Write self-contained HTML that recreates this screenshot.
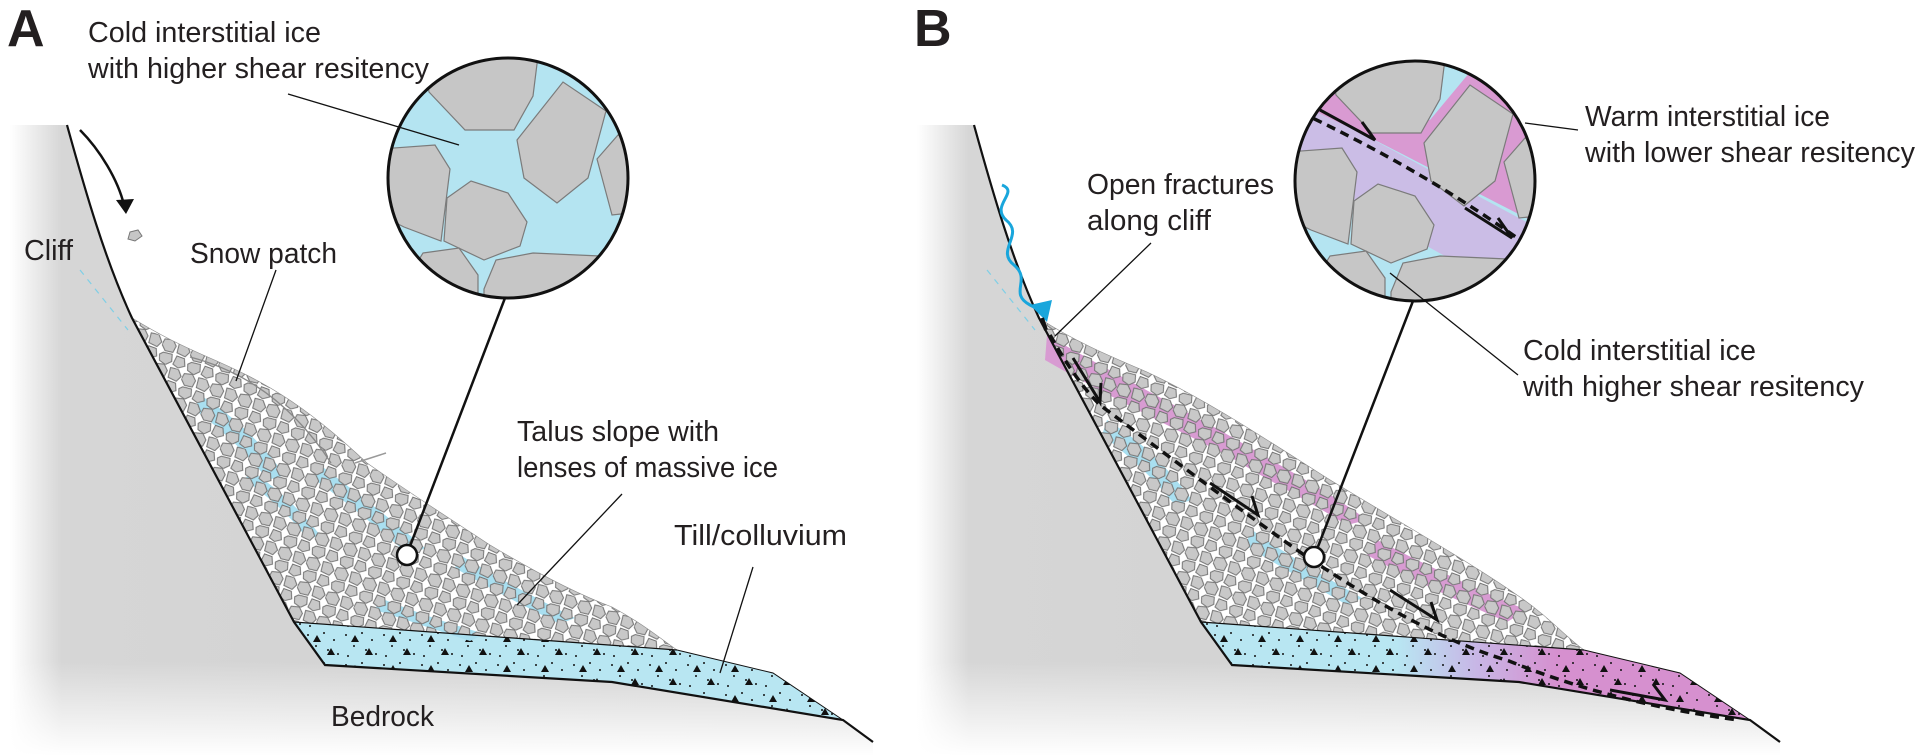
<!DOCTYPE html>
<html><head><meta charset="utf-8"><style>
html,body{margin:0;padding:0;background:#fff;}
svg{display:block;}
text{font-family:"Liberation Sans",sans-serif;fill:#231f20;}
</style></head><body>
<svg width="1920" height="756" viewBox="0 0 1920 756" xmlns="http://www.w3.org/2000/svg">
<defs>
 <linearGradient id="lf" x1="0" x2="1" y1="0" y2="0">
  <stop offset="0" stop-color="#fff"/><stop offset="0.06" stop-color="#d6d6d6"/><stop offset="1" stop-color="#cfcfcf"/>
 </linearGradient>
 <linearGradient id="bf" x1="0" x2="0" y1="0" y2="1">
  <stop offset="0.85" stop-color="#fff" stop-opacity="0"/><stop offset="1" stop-color="#fff" stop-opacity="1"/>
 </linearGradient>
 <linearGradient id="tillB" gradientUnits="userSpaceOnUse" x1="490" y1="0" x2="650" y2="0">
  <stop offset="0" stop-color="#b8e6f2"/><stop offset="0.5" stop-color="#c8b6e6"/><stop offset="1" stop-color="#d690cf"/>
 </linearGradient>
 <pattern id="rocks" width="30" height="26" patternUnits="userSpaceOnUse" patternTransform="rotate(20)">
  <g fill="#c8c8c8" stroke="#737373" stroke-width="1">
   <path d="M1,2 L9,0 L14,5 L13,12 L5,13 L0,8 Z"/>
   <path d="M16,1 L24,0 L29,6 L26,12 L17,11 Z"/>
   <path d="M4,15 L13,14 L15,21 L10,26 L3,24 L1,18 Z"/>
   <path d="M18,14 L26,14 L29,21 L23,25 L17,23 Z"/>
  </g>
 </pattern>
 <pattern id="till" width="38" height="30" patternUnits="userSpaceOnUse">
  <g fill="#111">
   <circle cx="4" cy="5" r="1"/><circle cx="20" cy="3" r="1"/><circle cx="30" cy="10" r="1"/>
   <circle cx="12" cy="16" r="1"/><circle cx="34" cy="24" r="1"/><circle cx="6" cy="26" r="1"/><circle cx="24" cy="20" r="1"/>
   <path d="M13,5 l4,7 h-8 Z"/><path d="M27,18 l4,7 h-8 Z"/>
  </g>
 </pattern>
 <clipPath id="cA"><circle cx="508" cy="178" r="120"/></clipPath>
 <clipPath id="cB"><circle cx="1415" cy="181" r="120"/></clipPath>

 <g id="gray">
  <path d="M10,125 L67,125 C85,190 105,260 132,318 L294,622 L325,665 L612,682 L843,720 L873,742 L873,756 L10,756 Z" fill="url(#lf)"/>
  <rect x="0" y="125" width="880" height="631" fill="url(#bf)"/>
 </g>
 <path id="tillshape" d="M294,622 L677,650 L773,673 L843,720 L820,716 L612,682 L325,665 Z"/>
 <path id="talus" d="M132,318 C160,335 180,345 210,358 C260,380 300,400 367,463 C420,500 460,525 490,545 C540,575 580,595 612,607 C640,622 660,638 677,650 L294,622 Z"/>
 <g id="lines" fill="none" stroke="#111">
  <path d="M67,125 C85,190 105,260 132,318 L294,622 L325,665 L612,682 L843,720 L873,742" stroke-width="2.2"/>
  <path d="M294,622 L677,650" stroke-width="1.2"/>
  <path d="M677,650 L773,673 L843,720" stroke-width="1"/>
  <path d="M80,270 L128,330" stroke="#7fcfe6" stroke-width="1.2" stroke-dasharray="6,6"/>
 </g>
</defs>

<!-- PANEL A -->
<use href="#gray"/>
<use href="#tillshape" fill="#b8e6f2"/>
<use href="#tillshape" fill="url(#till)"/>
<use href="#talus" fill="#fff"/>
<g fill="#a9dff0">
 <path d="M200,395 C240,420 262,445 285,475 L268,480 C248,455 225,432 195,410 Z"/>
 <path d="M320,465 C360,495 392,520 425,548 L410,556 C378,528 348,503 315,480 Z"/>
 <path d="M460,555 C505,582 540,600 575,618 L560,624 C528,608 492,590 455,568 Z"/>
 <path d="M380,598 C415,612 450,624 485,634 L470,641 C438,631 408,620 375,610 Z"/>
 <path d="M250,470 C280,490 300,510 320,535 L308,540 C290,515 270,498 245,480 Z"/>
</g>
<use href="#talus" fill="url(#rocks)" stroke="#888" stroke-width="0.6"/>
<path d="M190,357 C240,370 290,400 331,463" fill="none" stroke="#888" stroke-width="1.3"/>
<path d="M355,463 L386,453" stroke="#999" stroke-width="1.5"/>
<use href="#lines"/>
<path d="M80,130 C100,150 118,180 124,205" fill="none" stroke="#111" stroke-width="2.5"/>
<path d="M116,200 L126,214 L134,199 Z" fill="#111"/>
<path d="M130,232 L138,230 L142,236 L135,241 L128,239 Z" fill="#c6c6c6" stroke="#777"/>

<!-- circle A -->
<g clip-path="url(#cA)">
 <rect x="380" y="50" width="260" height="260" fill="#b4e4f1"/>
 <g fill="#c6c6c6" stroke="#7b7b7b" stroke-width="1.2">
  <path d="M420,40 L429,92 L465,130 L514,130 L533,96 L540,40 Z"/>
  <path d="M517,140 L563,82 L606,111 L588,178 L557,203 L524,178 Z"/>
  <path d="M597,159 L618,135 L640,145 L640,212 L612,215 Z"/>
  <path d="M380,149 L435,145 L450,169 L441,241 L404,227 L380,215 Z"/>
  <path d="M447,198 L471,181 L508,193 L527,222 L520,246 L484,260 L444,241 Z"/>
  <path d="M423,253 L459,248 L478,275 L478,310 L398,310 L398,294 Z"/>
  <path d="M484,289 L496,260 L533,253 L600,256 L606,310 L484,310 Z"/>
  <path d="M380,222 L407,256 L392,270 L380,270 Z"/>
 </g>
</g>
<circle cx="508" cy="178" r="120" fill="none" stroke="#111" stroke-width="3"/>
<g stroke="#111" fill="none">
 <line x1="288" y1="94" x2="459" y2="145" stroke-width="1.3"/>
 <line x1="505" y1="298" x2="407" y2="554" stroke-width="2.5"/>
 <line x1="276" y1="270" x2="236" y2="381" stroke-width="1.3"/>
 <line x1="622" y1="494" x2="517" y2="605" stroke-width="1.3"/>
 <line x1="753" y1="567" x2="720" y2="673" stroke-width="1.3"/>
</g>
<circle cx="407" cy="555" r="10" fill="#fff" stroke="#111" stroke-width="2.5"/>

<text x="7" y="46" font-size="52" font-weight="bold">A</text>
<g font-size="29">
 <text x="88" y="42" textLength="233" lengthAdjust="spacingAndGlyphs">Cold interstitial ice</text>
 <text x="88" y="78" textLength="341" lengthAdjust="spacingAndGlyphs">with higher shear resitency</text>
 <text x="24" y="260" textLength="49" lengthAdjust="spacingAndGlyphs">Cliff</text>
 <text x="190" y="263" textLength="147" lengthAdjust="spacingAndGlyphs">Snow patch</text>
 <text x="517" y="441" textLength="202" lengthAdjust="spacingAndGlyphs">Talus slope with</text>
 <text x="517" y="477" textLength="261" lengthAdjust="spacingAndGlyphs">lenses of massive ice</text>
 <text x="674" y="545" textLength="173" lengthAdjust="spacingAndGlyphs">Till/colluvium</text>
 <text x="331" y="726" textLength="103" lengthAdjust="spacingAndGlyphs">Bedrock</text>
</g>

<!-- PANEL B -->
<g transform="translate(907,0)">
 <use href="#gray"/>
 <use href="#tillshape" fill="url(#tillB)"/>
 <use href="#tillshape" fill="url(#till)"/>
 <path d="M132,318 C165,340 200,355 240,372 C300,400 360,440 420,478 C480,515 560,560 610,595 C640,615 660,638 677,650 L294,622 Z" fill="#fff"/>
 <g fill="#d89bd2">
  <path d="M140,335 C200,370 260,400 330,440 C380,470 420,490 460,520 L440,525 C400,500 360,480 320,455 C250,420 190,390 138,360 Z"/>
  <path d="M470,540 C520,565 570,590 620,610 L600,622 C550,600 505,580 460,555 Z"/>
 </g>
 <g fill="#a9dff0">
  <path d="M200,420 C240,445 262,470 285,500 L268,505 C248,480 225,458 195,435 Z"/>
  <path d="M345,530 C380,555 420,578 455,598 L440,605 C405,585 370,565 338,545 Z"/>
 </g>
 <path d="M132,318 C165,340 200,355 240,372 C300,400 360,440 420,478 C480,515 560,560 610,595 C640,615 660,638 677,650 L294,622 Z" fill="url(#rocks)" stroke="#888" stroke-width="0.6"/>
 <use href="#lines"/>
</g>
<!-- dashed slip surface -->
<path d="M1050,335 C1070,370 1085,390 1100,405 C1160,450 1240,510 1307,557 C1380,605 1440,640 1509,661 C1580,690 1660,710 1739,720" fill="none" stroke="#111" stroke-width="3.5" stroke-dasharray="9,6"/>
<g stroke="#111" stroke-width="3" fill="none">
 <path d="M1073,358 L1100,402 L1101,383"/>
 <path d="M1210,483 L1258,515 L1252,496"/>
 <path d="M1390,590 L1437,620 L1431,602"/>
 <path d="M1610,690 L1665,700 L1653,684"/>
</g>
<path d="M1002,185 C1020,192 990,205 1006,220 C1025,235 995,250 1014,265 C1032,280 1008,293 1030,305 L1040,310" fill="none" stroke="#19a6dc" stroke-width="3"/>
<path d="M1030,305 L1047,322 L1052,300 Z" fill="#19a6dc"/>
<path d="M1042,318 L1046,330" stroke="#111" stroke-width="4"/>

<!-- circle B -->
<g clip-path="url(#cB)">
 <rect x="1290" y="55" width="260" height="260" fill="#b4e4f1"/>
 <path d="M1290,95 L1560,240 L1560,300 L1470,270 L1290,170 Z" fill="#cbbde6"/>
 <path d="M1290,100 C1380,140 1450,180 1560,235 L1560,60 L1480,60 L1430,120 C1400,110 1350,100 1290,80 Z" fill="#d99ad2"/>
 <g fill="#c6c6c6" stroke="#7b7b7b" stroke-width="1.2">
  <path d="M1327,43 L1336,95 L1372,133 L1421,133 L1440,99 L1447,43 Z"/>
  <path d="M1424,143 L1470,85 L1513,114 L1495,181 L1464,206 L1431,181 Z"/>
  <path d="M1504,162 L1525,138 L1547,148 L1547,215 L1519,218 Z"/>
  <path d="M1287,152 L1342,148 L1357,172 L1348,244 L1311,230 L1287,218 Z"/>
  <path d="M1354,201 L1378,184 L1415,196 L1434,225 L1427,249 L1391,263 L1351,244 Z"/>
  <path d="M1330,256 L1366,251 L1385,278 L1385,313 L1305,313 L1305,297 Z"/>
  <path d="M1391,292 L1403,263 L1440,256 L1507,259 L1513,313 L1391,313 Z"/>
 </g>
 <path d="M1300,112 C1380,150 1450,190 1520,240" fill="none" stroke="#111" stroke-width="3.5" stroke-dasharray="9,6"/>
 <path d="M1320,110 L1375,140 L1362,122" fill="none" stroke="#111" stroke-width="3"/>
 <path d="M1465,208 L1512,238 L1498,218" fill="none" stroke="#111" stroke-width="3"/>
</g>
<circle cx="1415" cy="181" r="120" fill="none" stroke="#111" stroke-width="3"/>
<g stroke="#111" fill="none">
 <line x1="1525" y1="123" x2="1578" y2="130" stroke-width="1.3"/>
 <line x1="1390" y1="273" x2="1518" y2="375" stroke-width="1.3"/>
 <line x1="1413" y1="301" x2="1314" y2="557" stroke-width="2.5"/>
 <line x1="1151" y1="243" x2="1055" y2="336" stroke-width="1.3"/>
</g>
<circle cx="1314" cy="557" r="10" fill="#fff" stroke="#111" stroke-width="2.5"/>

<text x="914" y="46" font-size="52" font-weight="bold">B</text>
<g font-size="29">
 <text x="1087" y="194" textLength="187" lengthAdjust="spacingAndGlyphs">Open fractures</text>
 <text x="1087" y="230" textLength="124" lengthAdjust="spacingAndGlyphs">along cliff</text>
 <text x="1585" y="126" textLength="245" lengthAdjust="spacingAndGlyphs">Warm interstitial ice</text>
 <text x="1585" y="162" textLength="330" lengthAdjust="spacingAndGlyphs">with lower shear resitency</text>
 <text x="1523" y="360" textLength="233" lengthAdjust="spacingAndGlyphs">Cold interstitial ice</text>
 <text x="1523" y="396" textLength="341" lengthAdjust="spacingAndGlyphs">with higher shear resitency</text>
</g>
</svg>
</body></html>
